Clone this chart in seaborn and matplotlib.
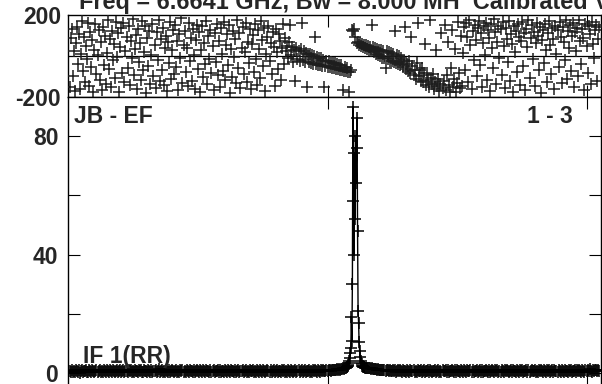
import numpy as np
import pandas as pd
import matplotlib
matplotlib.use("Agg")
import matplotlib.pyplot as plt
import seaborn as sns

# ---------------- data ----------------
title_text = "Freq = 6.6641 GHz, Bw = 8.000 MH  Calibrated Visibilities"
baseline_label = "JB - EF"
panel_label = "1 - 3"
if_label = "IF 1(RR)"

# phase (deg), one value every 2 channels starting at channel 1
phase = [
    -152, 88, 131, -97, 23, -171, 64, 142, -38, 107, -160, 12, 171, -74, 95, -129,
    49, -13, 163, -145, 118, -56, 77, -178, 31, 154, -88, 3, 126, -119, 68, -165,
    140, -42, 97, -135, 15, 175, -64, 83, -150, 121, -21, 58, -107, 167, -3, 112,
    -174, 44, 136, -81, 159, -127, 26, 92, -58, 148, -141, 71, -9, 180, -92, 35,
    103, -161, 130, -30, 61, -115, 169, -70, 19, 145, -182, 86, -47, 124, -137, 7,
    157, -99, 52, -156, 115, -19, 178, -124, 81, -66, 139, -143, 38, 98, -173, 66,
    -35, 164, -110, 27, 127, -86, 150, -52, 74, -168, 109, -11, 186, -133, 55, 120,
    -79, 41, -147, 161, -24, 90, -120, 134, 5, -159, 78, 153, -61, 117, -176, 29,
    146, -104, 63, -41, 173, -139, 100, -16, 128, -84, 47, -166, 114, -29, 158, -95,
    72, -149, 137, 9, -73, 166, -118, 54, 105, -45, 151, -181, 33, -102, 122, -6,
    84, -131, 177, -57, 110, -154, 40, 143, -90, 18, 162, -125, 69, -33, 132, -163,
    57, 101, -76, 155, -14, -142, 125, 36, -108, 170, 79, -51, 138, -170, 11, 94,
    148, -26, 62, -87, 119, 45, -148, 133, 20, -63, 108, 71, -117, 39, 156, -37, 87, 24,
    48, -10, 70, 150, 5, 44, -30, 30, -120, 40, -15, 25, -25, 35, 160, -20,
    22, -30, 15, -150, 10, -28, 12, -35, 5, -40, -2, 95, -38, -5, -42, -10,
    -45, -12, -48, -18, -150, -50, -22, -52, -25, -55, -30, -58, -34, -60, -36, -62,
    -40, -65, -42, -68, -46, -70, -165, -72, -55, -75, -58, -76, -178, -78, -66,
    128, 122, 130, 95, 62,
    66, 52, 61, 48, 58, 44, 55, 40, 52, 36, 50, 30, 45, 25, 150, 42,
    18, 38, 12, 36, 5, 30, -2, 28, -8, 25, -12, -60, 22, -15, 18, -22,
    14, -26, 8, -30, 120, -35, 5, -38, -2, -42, -8,
    -30, -55, -18, 140, -62, -40, -75, -25, -85, 95, -50, -92, -66, -110, -35, 160, -100, -70, -120, -58,
    -128, -85, 60, -140, -95, -115, -150, 175, -105, -135, -88, -160, -125, 30, -145, -112, -170, -138, 110, -155,
    -120, 150, -165, -95, 70, -140, -178, -60, 125, -150, -110, 35, -175, -130, 165, -85, -155, 100, -145, 15,
    140, -70, 160, 95, -125, 175, 55, -160, 120, -20, 150, 80, -100, 135, 170, -45, 110, -150, 65, 145,
    5, 160, -115, 125, 90, -170, 155, 40, -60, 180, 115, -135, 70, 148, -10, 130, -95, 165, 50, -155,
    138, 85, -30, 172, -120, 105, 60, -175, 145, 20, 120, -80, 158, 95, -140, 75, 168, -50, 110, -165,
    130, 45, 176, -105, 88, 150, -15, 118, -145, 62, 162, 100, -70, 140, -180, 78, 125, -35, 155, 30,
    -125, 112, 170, 55, -90, 135, 82, -160, 148, 10, 128, -55, 166, 92, -130, 142, 68, -20, 178, -110,
    122, 40, 152, -75, 98, 160, -150, 115, 25, 138, -100, 174, 72, -40, 132, 90, -168, 156, 48, -85,
    145, 108, -135, 168, 60, -10, 126, 150, -120, 85, 140,
]

# amplitude noise floor, one value every 2 channels starting at channel 1
amp_floor = [
    0.8,0.5,1.1,0.6,0.9,0.4,1.2,0.7,0.6,1.0,0.3,0.8,1.1,0.5,0.9,0.7,1.3,0.6,0.4,1.0,0.8,0.5,1.2,0.9,0.6,0.7,1.1,0.4,0.8,1.0,0.5,0.9,
    0.6,1.2,0.7,0.4,1.0,0.8,0.5,1.1,0.9,0.6,1.3,0.7,0.5,0.9,1.0,0.4,0.8,1.2,0.6,0.7,1.1,0.5,0.9,0.8,0.4,1.0,0.7,1.2,0.6,0.8,0.5,1.1,
    0.9,0.7,0.4,1.0,0.8,1.3,0.6,0.5,1.1,0.7,0.9,0.4,1.2,0.8,0.6,1.0,0.5,0.9,0.7,1.1,0.6,0.8,1.4,0.5,0.7,1.0,0.6,0.9,0.4,1.2,0.8,0.6,
    1.0,0.5,0.8,1.1,0.7,0.4,0.9,1.2,0.6,0.8,0.5,1.0,0.7,1.3,0.6,0.9,0.4,1.1,0.8,0.5,1.0,0.7,0.9,0.6,1.2,0.5,0.8,1.0,0.7,0.4,1.1,0.9,
    0.6,1.0,0.8,0.5,1.2,0.7,0.9,0.4,1.1,0.6,0.8,1.3,0.5,0.9,0.7,1.0,0.6,1.1,0.4,0.8,0.9,0.5,1.2,0.7,0.6,1.0,0.8,0.5,1.1,0.7,0.9,0.6,
    1.2,0.4,0.8,1.0,0.6,0.9,0.7,1.1,0.5,0.8,1.3,0.6,0.9,0.4,1.0,0.7,0.8,1.2,0.5,0.9,0.6,1.1,0.7,0.4,1.0,0.8,0.6,1.2,0.9,0.5,0.7,1.0,
    0.8,0.6,1.1,0.5,0.9,1.0,0.4,0.7,1.2,0.6,0.8,0.9,0.5,1.1,0.7,1.3,0.6,0.8,0.4,1.0,0.9,0.6,1.1,0.7,0.5,0.8,1.2,0.6,0.9,1.0,0.4,0.7,
    1.0,0.6,0.9,1.2,0.5,0.8,0.7,1.1,0.6,0.9,0.4,1.0,0.8,1.3,0.7,0.5,1.1,0.9,0.6,1.0,0.8,1.2,0.7,0.9,1.1,0.8,1.3,1.0,0.9,1.2,1.1,1.0,
    1.3,1.1,1.4,1.2,1.5,1.3,1.6,1.5,1.7,1.6,1.8,2,2,2,2,2,2,2,2,2,2,2,2,2,2,2,2,2,2,2,1.9,1.8,
    1.9,1.7,1.8,1.6,1.7,1.5,1.6,1.4,1.5,1.3,1.4,1.2,1.3,1.1,1.2,1.0,1.3,0.9,1.1,1.0,0.8,1.2,0.9,0.7,1.1,0.8,1.0,0.6,0.9,1.2,0.7,1.0,
    0.8,0.5,1.1,0.7,0.9,0.6,1.2,0.8,0.4,1.0,0.7,0.9,1.3,0.6,0.8,0.5,1.1,0.9,0.7,1.0,0.4,0.8,1.2,0.6,0.9,0.7,1.0,0.5,1.1,0.8,0.6,0.9,
    0.7,1.0,0.5,0.8,1.2,0.6,0.9,0.4,1.1,0.7,0.8,1.3,0.6,1.0,0.5,0.9,0.7,1.1,0.8,0.4,1.0,0.6,1.2,0.9,0.7,0.5,1.1,0.8,0.6,1.0,0.9,0.4,
    1.1,0.7,0.8,1.0,0.5,1.2,0.6,0.9,0.7,1.3,0.5,0.8,1.0,0.6,1.1,0.4,0.9,0.7,1.2,0.8,0.5,1.0,0.6,0.9,1.1,0.7,0.4,1.0,0.8,1.2,0.6,0.9,
    0.5,1.0,0.8,0.6,1.1,0.7,1.3,0.9,0.4,0.8,1.0,0.6,1.2,0.7,0.9,0.5,1.1,0.8,0.6,1.0,0.7,1.2,0.4,0.9,0.8,1.1,0.6,1.0,0.5,0.9,1.3,0.7,
    0.8,1.1,0.6,0.9,0.4,1.0,0.7,1.2,0.8,0.5,1.1,0.9,0.6,1.0,0.7,1.3,0.5,0.8,1.0,0.6,1.2,0.9,0.7,0.4,1.1,0.8,0.6,1.0,0.9,0.5,1.2,0.7,
    0.9,0.6,1.0,0.8,1.2,0.5,0.9,0.7,1.1,0.6,1.3,0.8,1.0,0.7,0.5,1.1,0.9,0.6,1.2,0.8,1.0,0.7,1.4,0.9,0.6,1.1,0.8,1.3,1.0,0.7,1.2,0.9,
]

# amplitude in the line region, every channel from 535 to 571
peak_start = 535
amp_peak = [1.9, 2.1, 2.2, 2.6, 2.9, 3.4, 4.2, 5.2, 6.8, 8.5, 19.0, 11.0, 30.0, 89.6,
            58.0, 40.0, 74.0, 52.0, 80.0, 64.0, 76.0, 86.0, 48.0, 21.0, 17.0, 10.5,
            7.5, 5.5, 4.3, 3.5, 3.0, 2.6, 2.4, 2.2, 2.1, 2.0, 1.9]

# ---------------- tables ----------------
ph_df = pd.DataFrame({"chan": 1 + 2 * np.arange(len(phase)), "phase": phase})
floor_df = pd.DataFrame({"chan": 1 + 2 * np.arange(len(amp_floor)), "amp": amp_floor})
peak_df = pd.DataFrame({"chan": peak_start + np.arange(len(amp_peak)), "amp": amp_peak})
floor_df = floor_df[(floor_df.chan < peak_df.chan.min()) | (floor_df.chan > peak_df.chan.max())]
amp_df = pd.concat([floor_df, peak_df]).sort_values("chan").reset_index(drop=True)

# ---------------- figure ----------------
sns.set_style("ticks")
plt.rcParams["font.family"] = ["Liberation Sans", "DejaVu Sans"]
plt.rcParams["font.weight"] = "bold"

W, H = 602, 384
fig = plt.figure(figsize=(W / 100, H / 100), dpi=100)

def fx(px):
    return px / W

def fy(py):
    return 1 - py / H

left, right = 68, 600.5
ax_ph = fig.add_axes([fx(left), fy(97), fx(right - left), (97 - 15) / H])
ax_amp = fig.add_axes([fx(left), fy(385), fx(right - left), (385 - 97) / H])

xlim = (-2, 1026)
fs = 16.5

# phase panel
ax_ph.axhline(0, color="black", lw=0.9, zorder=1)
sns.scatterplot(data=ph_df, x="chan", y="phase", marker="+", s=70, color="#1e1e1e",
                linewidth=1.1, ax=ax_ph, zorder=3, legend=False)
ax_ph.set_xlim(*xlim)
ax_ph.set_ylim(-200, 200)
ax_ph.set_yticks([-200, 200])
ax_ph.set_yticklabels(["-200", "200"], fontsize=fs, fontweight="bold")
ax_ph.tick_params(axis="y", length=0, pad=5)
ax_ph.set_xticks([500, 1000])
ax_ph.tick_params(axis="x", direction="in", length=8.5, width=0.8, top=True, bottom=True,
                  labelbottom=False, color="black")
ax_ph.set_xlabel("")
ax_ph.set_ylabel("")

# amplitude panel
sns.lineplot(data=amp_df, x="chan", y="amp", color="black", lw=1.0, marker="+",
             markersize=8, markeredgewidth=1.1, markeredgecolor="black", ax=ax_amp,
             estimator=None, sort=True)
ax_amp.set_xlim(*xlim)
ax_amp.set_ylim(-3.9, 93)
ax_amp.set_yticks([0, 20, 40, 60, 80])
ax_amp.set_yticklabels(["0", "", "40", "", "80"], fontsize=fs, fontweight="bold")
ax_amp.tick_params(axis="y", direction="in", length=8.5, width=0.8, left=True, right=True,
                   pad=7, color="black")
ax_amp.set_xticks([500, 1000])
ax_amp.tick_params(axis="x", direction="in", length=8.5, width=0.8, top=True, bottom=True,
                   labelbottom=False, color="black")
ax_amp.set_xlabel("")
ax_amp.set_ylabel("")

for ax in (ax_ph, ax_amp):
    for sp in ax.spines.values():
        sp.set_visible(True)
        sp.set_color("black")
        sp.set_linewidth(1.0)

# texts
fig.text(fx(79), fy(8.5), title_text, fontsize=16.9, fontweight="bold", va="baseline", ha="left")
fig.text(fx(74), fy(123), baseline_label, fontsize=fs, fontweight="bold", va="baseline", ha="left")
fig.text(fx(573), fy(123), panel_label, fontsize=fs, fontweight="bold", va="baseline", ha="right")
fig.text(fx(83), fy(363), if_label, fontsize=fs, fontweight="bold", va="baseline", ha="left")

fig.savefig("out.png", dpi=100)
